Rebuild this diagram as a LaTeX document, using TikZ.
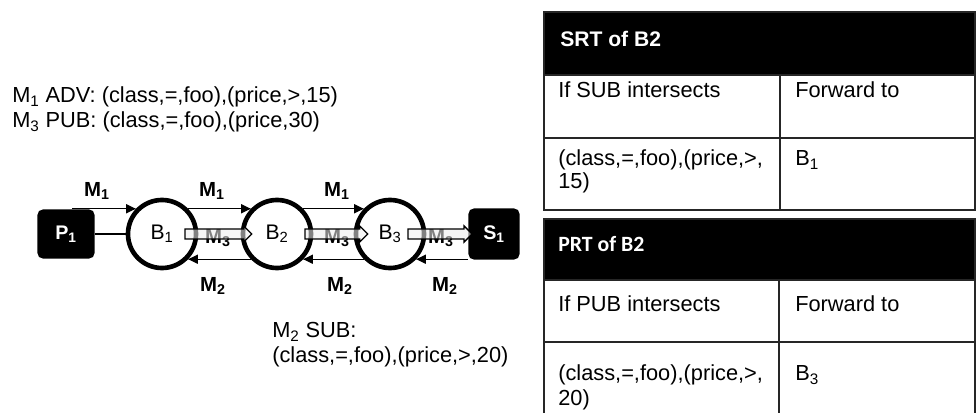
\documentclass[tikz,border=0pt]{standalone}
\usepackage{fontspec}
\setmainfont{Liberation Sans}
\newfontfamily\calibrifont{Carlito}
\usetikzlibrary{positioning, calc, arrows.meta}

\tikzset{
  broker/.style={circle, draw, line width=3.3pt, minimum size=1.7cm, inner sep=0pt,
    font=\fontsize{15}{18}\selectfont},
  client/.style={rectangle, rounded corners=4pt, fill=black, text=white, inner sep=0pt,
    font=\bfseries\fontsize{14}{16}\selectfont},
  msg/.style={inner sep=0pt, font=\bfseries\fontsize{14.5}{16}\selectfont},
  link/.style={line width=0.9pt, -{Triangle[length=7pt,width=6.5pt]}},
  txt/.style={inner sep=0pt, anchor=base west, align=left,
    font=\fontsize{15.5}{17.8}\selectfont},
  rule/.style={line width=1.1pt, draw=black!85},
}

% grey block arrow carrying a publication
\newcommand{\pubarrow}[2]{%
  \draw[line width=0.9pt, fill=gray!15, fill opacity=0.55]
    ($(#1)+(0,-5)$) -- ($(#2)+(-8,-5)$) -- ($(#2)+(-8,-8)$) -- (#2)
    -- ($(#2)+(-8,8)$) -- ($(#2)+(-8,5)$) -- ($(#1)+(0,5)$) -- cycle;
}

\begin{document}
\begin{tikzpicture}[x=0.025cm, y=-0.025cm]
  \useasboundingbox (0,0) rectangle (976,413);

  % Messages (base anchor sits on the last line)
  \node[txt] (adv) at (12,128) {M\textsubscript{1} ADV: (class,=,foo),(price,>,15)\\
    M\textsubscript{3} PUB: (class,=,foo),(price,30)};
  \node[txt] (sub) at (272,363) {M\textsubscript{2} SUB:\\
    (class,=,foo),(price,>,20)};

  % Publisher, brokers, subscriber
  \node[client, minimum width=1.43cm, minimum height=1.23cm] (p1) at (66,234) {P\textsubscript{1}};
  \node[broker] (b1) at (162,234) {B\textsubscript{1}};
  \node[broker] (b2) at (277,234) {B\textsubscript{2}};
  \node[broker] (b3) at (390,234) {B\textsubscript{3}};
  \node[client, minimum width=1.28cm, minimum height=1.28cm] (s1) at (494,234) {S\textsubscript{1}};

  % M1 advertisement travels right
  \draw[link] ($(b1.136 -| p1.north)+(6,0)$) -- (b1.136);
  \draw[link] (b1.44) -- (b2.136);
  \draw[link] (b2.44) -- (b3.136);
  \draw[line width=0.9pt] (p1.east) -- (b1.west);

  % M2 subscription travels left
  \draw[link] (b2.-136) -- (b1.-44);
  \draw[link] (b3.-136) -- (b2.-44);
  \draw[link] (b3.-44 -| s1.west) -- (b3.-44);

  \node[msg] (m1a) at (97,191) {M\textsubscript{1}};
  \node[msg] (m1b) at (212,191) {M\textsubscript{1}};
  \node[msg] (m1c) at (337,191) {M\textsubscript{1}};
  \node[msg] (m2a) at (213,286) {M\textsubscript{2}};
  \node[msg] (m2b) at (340,286) {M\textsubscript{2}};
  \node[msg] (m2c) at (445,286) {M\textsubscript{2}};

  % M3 publication follows the reverse path of M2
  \node[msg] (m3a) at (218,238) {M\textsubscript{3}};
  \node[msg] (m3b) at (337,238) {M\textsubscript{3}};
  \node[msg] (m3c) at (441,238) {M\textsubscript{3}};
  \coordinate (t1) at ($(b2.west)+(11,0)$);
  \coordinate (t2) at ($(b3.west)+(14,0)$);
  \coordinate (t3) at ($(s1.west)+(4,0)$);
  \pubarrow{$(b1.center)+(23,0)$}{t1}
  \pubarrow{$(b2.center)+(28,0)$}{t2}
  \pubarrow{$(b3.center)+(18,0)$}{t3}

  % SRT of B2
  \fill (544,12) rectangle (975,75);
  \draw[rule] (544,12) rectangle (975,210);
  \draw[rule] (544,75) -- (975,75);
  \draw[rule] (544,138) -- (975,138);
  \draw[rule] (780,75) -- (780,210);
  \node[txt, text=white, font=\bfseries\fontsize{15}{18}\selectfont] (srt) at (560,47) {SRT of B2};
  \node[txt] (srtif) at (558,98) {If SUB intersects};
  \node[txt] (srtfw) at (795,98) {Forward to};
  \node[txt, font=\fontsize{15.5}{16.4}\selectfont] (srtval) at (558,189) {(class,=,foo),(price,>,\\15)};
  \node[txt] (srtto) at (795,166) {B\textsubscript{1}};

  % PRT of B2
  \fill (544,219) rectangle (975,280);
  \draw[rule] (544,413) -- (544,219) -- (975,219) -- (975,413);
  \draw[rule] (544,280) -- (975,280);
  \draw[rule] (544,342) -- (975,342);
  \draw[rule] (779,280) -- (779,413);
  \node[txt, text=white, font=\calibrifont\bfseries\fontsize{15.5}{18}\selectfont] (prt) at (558,252) {PRT of B2};
  \node[txt] (prtif) at (558,312) {If PUB intersects};
  \node[txt] (prtfw) at (795,312) {Forward to};
  \node[txt] (prtval) at (558,406) {(class,=,foo),(price,>,\\20)};
  \node[txt] (prtto) at (795,381) {B\textsubscript{3}};
\end{tikzpicture}
\end{document}
